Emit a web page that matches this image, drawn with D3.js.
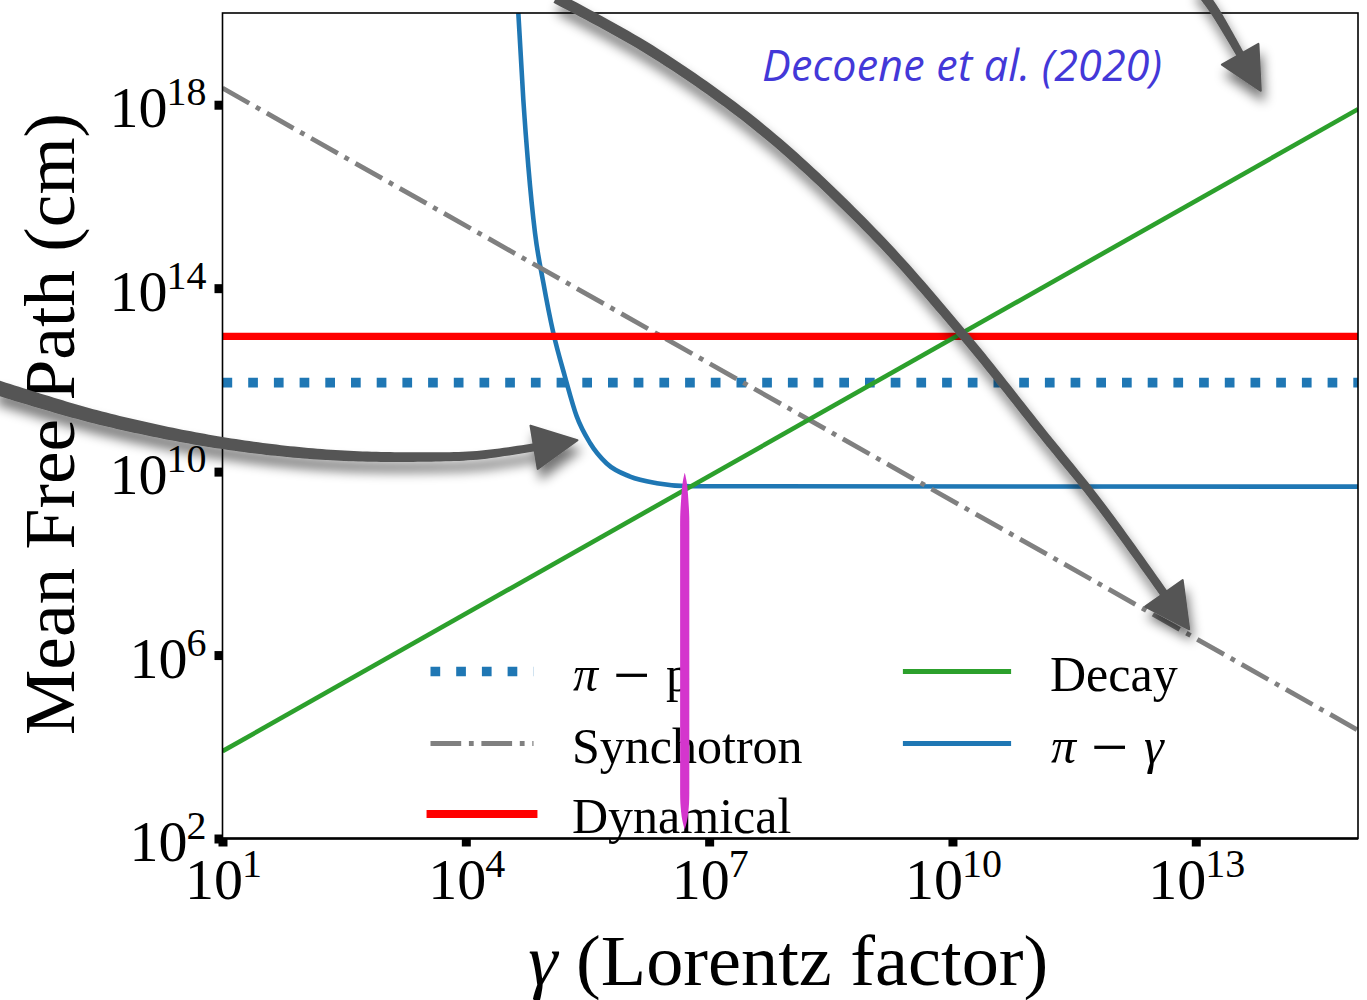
<!DOCTYPE html>
<html>
<head>
<meta charset="utf-8">
<script src="https://cdn.jsdelivr.net/npm/d3@7"></script>
<style>
  body { margin: 0; background: #fff; }
  svg { display: block; }
</style>
</head>
<body>
<svg id="chart" width="1367" height="1000"></svg>
<script>
// Mean free path of charged pions against their Lorentz factor.

// Axes
const gammaDomain = [1e1, 1e15];
const pathDomain = [1e2, 1e20];
const xTickValues = [1e1, 1e4, 1e7, 1e10, 1e13];
const xTickExponents = ["1", "4", "7", "10", "13"];
const yTickValues = [1e2, 1e6, 1e10, 1e14, 1e18];
const yTickExponents = ["2", "6", "10", "14", "18"];

// Series: [gamma, mean free path in cm]
const decayPoints = [[1e1, 8.0e3], [1e15, 8.0e17]];
const synchrotronPoints = [[1e1, 2.3e18], [1e15, 2.3e4]];
const dynamicalPath = 8.9e12;
const pionProtonPath = 8.7e11;
const pionPhotonPoints = [
  [4.44e4, 1.0e20], [5.12e4, 1.26e18], [5.9e4, 4.5e16], [7.13e4, 1.6e15],
  [9.04e4, 1.3e14], [1.2e5, 1.05e13], [1.67e5, 1.17e12], [2.33e5, 1.6e11],
  [3.4e5, 4.2e10], [5.46e5, 1.5e10], [1.06e6, 7.8e9], [2.26e6, 5.6e9],
  [5.8e6, 4.8e9], [1e15, 4.7e9]
];

// Highlighted Lorentz factor where the pi-gamma losses level off
const markerGamma = 5.0e6;
const markerRange = [1.55e2, 9.5e9];

// Annotation arrows, as [log10 gamma, log10 path] control points
const arrowLong = [[5.112, 20.328], [6.271, 19.194], [7.628, 17.493], [9.021, 15.203],
  [10.155, 12.935], [11.105, 10.842], [11.820, 9.272], [12.621, 7.310]];
const arrowLeft = [[-1.805, 11.845], [-0.510, 11.169], [0.994, 10.624], [2.326, 10.362],
  [3.559, 10.319], [4.175, 10.362], [4.866, 10.537]];
const arrowCorner = [[13.004, 20.611], [13.226, 20.066], [13.411, 19.521], [13.559, 19.063]];

const creditText = "Decoene et al. (2020)";

// ---------------------------------------------------------------
const W = 1367, H = 1000;
const plot = { left: 222.5, right: 1358, top: 13, bottom: 838.5 };
const serif = "'Liberation Serif', 'Times New Roman', serif";

const svg = d3.select("#chart");
const x = d3.scaleLog().domain(gammaDomain).range([plot.left, plot.right]);
const y = d3.scaleLog().domain(pathDomain).range([plot.bottom, plot.top]);

const defs = svg.append("defs");
defs.append("clipPath").attr("id", "plotClip")
  .append("rect")
  .attr("x", plot.left).attr("y", plot.top)
  .attr("width", plot.right - plot.left).attr("height", plot.bottom - plot.top);

const shadow = defs.append("filter").attr("id", "arrowShadow")
  .attr("filterUnits", "userSpaceOnUse")
  .attr("x", -60).attr("y", -60).attr("width", W + 120).attr("height", H + 120);
shadow.append("feGaussianBlur").attr("in", "SourceAlpha").attr("stdDeviation", 6).attr("result", "blur");
shadow.append("feOffset").attr("in", "blur").attr("dx", 3).attr("dy", 10).attr("result", "off");
shadow.append("feComponentTransfer").attr("in", "off").attr("result", "soft")
  .append("feFuncA").attr("type", "linear").attr("slope", 0.55);
const merge = shadow.append("feMerge");
merge.append("feMergeNode").attr("in", "soft");
merge.append("feMergeNode").attr("in", "SourceGraphic");

const softEdge = defs.append("filter").attr("id", "softEdge")
  .attr("x", "-200%").attr("y", "-10%").attr("width", "500%").attr("height", "120%");
softEdge.append("feGaussianBlur").attr("stdDeviation", 0.7);

// ---------------------------------------------------------------
// Curves
const straight = d3.line().x(d => x(d[0])).y(d => y(d[1]));
const smooth = d3.line().x(d => x(d[0])).y(d => y(d[1])).curve(d3.curveMonotoneX);

const styles = {
  pionPhoton: { stroke: "#1f77b4", width: 4.6, dash: null },
  pionProton: { stroke: "#1f77b4", width: 9.7, dash: "9.7 16" },
  synchrotron: { stroke: "#808080", width: 4.8, dash: "30.7 7.7 4.8 7.7" },
  dynamical: { stroke: "#ff0000", width: 7.3, dash: null },
  decay: { stroke: "#2ca02c", width: 4.6, dash: null }
};

const lines = svg.append("g").attr("clip-path", "url(#plotClip)");

function drawSeries(d, gen, st) {
  lines.append("path").datum(d)
    .attr("d", gen)
    .attr("fill", "none")
    .attr("stroke", st.stroke)
    .attr("stroke-width", st.width)
    .attr("stroke-dasharray", st.dash)
    .attr("stroke-linejoin", "round");
}

drawSeries(pionPhotonPoints, smooth, styles.pionPhoton);
drawSeries([[gammaDomain[0], pionProtonPath], [gammaDomain[1], pionProtonPath]], straight, styles.pionProton);
drawSeries(synchrotronPoints, straight, styles.synchrotron);
drawSeries([[gammaDomain[0], dynamicalPath], [gammaDomain[1], dynamicalPath]], straight, styles.dynamical);
drawSeries(decayPoints, straight, styles.decay);

// ---------------------------------------------------------------
// Frame and ticks
const frame = svg.append("g");
frame.append("rect")
  .attr("x", plot.left).attr("y", plot.top)
  .attr("width", plot.right - plot.left).attr("height", plot.bottom - plot.top)
  .attr("fill", "none").attr("stroke", "#000").attr("stroke-width", 1.6);
frame.append("line")
  .attr("x1", plot.left).attr("x2", plot.right)
  .attr("y1", plot.bottom).attr("y2", plot.bottom)
  .attr("stroke", "#000").attr("stroke-width", 2.4);

const xAxis = svg.append("g").attr("transform", `translate(0,${plot.bottom})`)
  .call(d3.axisBottom(x).tickValues(xTickValues).tickSize(8).tickFormat(""));
const yAxis = svg.append("g").attr("transform", `translate(${plot.left},0)`)
  .call(d3.axisLeft(y).tickValues(yTickValues).tickSize(8).tickFormat(""));
[xAxis, yAxis].forEach(a => {
  a.select(".domain").remove();
  a.selectAll(".tick line").attr("stroke", "#000").attr("stroke-width", 9);
});

// Tick labels as 10^n
function powerLabel(sel, exp) {
  sel.append("tspan").text("10");
  sel.append("tspan").attr("dy", -22).attr("dx", -1).attr("font-size", 40).text(exp);
}
xTickValues.forEach((v, i) => {
  const t = svg.append("text")
    .attr("x", x(v) + 1).attr("y", plot.bottom + 60)
    .attr("text-anchor", "middle")
    .attr("font-family", serif).attr("font-size", 58).attr("fill", "#000");
  powerLabel(t, xTickExponents[i]);
});
yTickValues.forEach((v, i) => {
  const t = svg.append("text")
    .attr("x", plot.left - 16).attr("y", y(v) + 22.5)
    .attr("text-anchor", "end")
    .attr("font-family", serif).attr("font-size", 58).attr("fill", "#000");
  powerLabel(t, yTickExponents[i]);
});

// Axis titles
const xTitle = svg.append("text")
  .attr("x", (plot.left + plot.right) / 2 - 2).attr("y", 985)
  .attr("text-anchor", "middle")
  .attr("font-family", serif).attr("font-size", 71).attr("fill", "#000")
  .attr("textLength", 520).attr("lengthAdjust", "spacingAndGlyphs");
xTitle.append("tspan").attr("font-style", "italic").text("γ");
xTitle.append("tspan").text(" (Lorentz factor)");

svg.append("text")
  .attr("transform", "translate(74,424) rotate(-90)")
  .attr("text-anchor", "middle")
  .attr("font-family", serif).attr("font-size", 71).attr("fill", "#000")
  .attr("textLength", 622).attr("lengthAdjust", "spacingAndGlyphs")
  .text("Mean Free Path (cm)");

// ---------------------------------------------------------------
// Legend, two columns
const legendItems = [
  { key: "pionProton", col: 0, row: 0, label: [["π", "italic"], ["−", "minus"], ["p", "normal"]] },
  { key: "synchrotron", col: 0, row: 1, label: "Synchotron" },
  { key: "dynamical", col: 0, row: 2, label: "Dynamical" },
  { key: "decay", col: 1, row: 0, label: "Decay" },
  { key: "pionPhoton", col: 1, row: 1, label: [["π", "italic"], ["−", "minus"], ["γ", "italic"]] }
];
const legendCols = [{ x1: 430.5, x2: 533.5, tx: 572 }, { x1: 905.5, x2: 1008.5, tx: 1050 }];
const legendRows = [671.5, 743.5, 814];
const legend = svg.append("g");
legendItems.forEach(it => {
  const c = legendCols[it.col], ry = legendRows[it.row], st = styles[it.key];
  legend.append("line")
    .attr("x1", c.x1).attr("x2", c.x2).attr("y1", ry).attr("y2", ry)
    .attr("stroke", st.stroke).attr("stroke-width", st.dash ? st.width : st.width + 0.6)
    .attr("stroke-dasharray", st.dash)
    .attr("stroke-linecap", st.dash ? "butt" : "square");
  const base = ry + 19;
  const t = legend.append("text")
    .attr("font-family", serif).attr("font-size", 50).attr("fill", "#000");
  if (typeof it.label === "string") {
    t.attr("x", c.tx).attr("y", base).text(it.label);
  } else {
    const offs = [1, 41, 94];
    it.label.forEach(([s, kind], k) => {
      const sp = t.append("tspan").attr("x", c.tx + offs[k]).attr("y", base).text(s);
      if (kind === "italic") sp.attr("font-style", "italic");
      if (kind === "minus") sp.attr("font-size", 66).attr("y", base + 6);
    });
  }
});

// ---------------------------------------------------------------
// Highlighted Lorentz factor
const mx = x(markerGamma), myTop = y(markerRange[1]), myBot = y(markerRange[0]);
const profile = d3.range(0, 41).map(i => {
  const t = i / 40;
  const k = Math.min(1, t / 0.12, (1 - t) / 0.08);
  return { yy: myTop + (myBot - myTop) * t, hw: 4.6 * Math.sqrt(Math.max(0, k)) };
});
svg.append("path").datum(profile)
  .attr("d", d3.area().y(d => d.yy).x0(d => mx - d.hw).x1(d => mx + d.hw).curve(d3.curveBasis))
  .attr("fill", "#d435cd")
  .attr("filter", "url(#softEdge)");

// ---------------------------------------------------------------
// Annotation arrows
const arrows = svg.append("g").attr("filter", "url(#arrowShadow)");
const arrowGen = d3.line()
  .x(d => x(Math.pow(10, d[0])))
  .y(d => y(Math.pow(10, d[1])))
  .curve(d3.curveCatmullRom.alpha(0.5));

function taperedArrow(pts, w0, w1, headLen, headW) {
  const tmp = svg.append("path").attr("d", arrowGen(pts)).attr("fill", "none");
  const node = tmp.node();
  const L = node.getTotalLength();
  const N = 120, left = [], right = [];
  let dirX = 1, dirY = 0, end = null;
  for (let i = 0; i <= N; i++) {
    const s = L * i / N;
    const p = node.getPointAtLength(s);
    const a = node.getPointAtLength(Math.max(0, s - 1));
    const b = node.getPointAtLength(Math.min(L, s + 1));
    let dx = b.x - a.x, dy = b.y - a.y;
    const m = Math.hypot(dx, dy) || 1;
    dx /= m; dy /= m;
    const hw = (w0 + (w1 - w0) * i / N) / 2;
    left.push([p.x - dy * hw, p.y + dx * hw]);
    right.push([p.x + dy * hw, p.y - dx * hw]);
    if (i === N) { dirX = dx; dirY = dy; end = p; }
  }
  tmp.remove();
  const body = left.concat(right.reverse());
  arrows.append("path")
    .attr("d", "M" + body.map(p => p.join(",")).join("L") + "Z")
    .attr("fill", "#555555");
  const back = 2;
  const bx = end.x - dirX * back, by = end.y - dirY * back;
  const tip = [end.x + dirX * headLen, end.y + dirY * headLen];
  const c1 = [bx - dirY * headW / 2, by + dirX * headW / 2];
  const c2 = [bx + dirY * headW / 2, by - dirX * headW / 2];
  arrows.append("path")
    .attr("d", `M${tip.join(",")}L${c1.join(",")}L${c2.join(",")}Z`)
    .attr("fill", "#555555")
    .attr("stroke", "#555555").attr("stroke-width", 2).attr("stroke-linejoin", "round");
}

taperedArrow(arrowLong, 11, 8.5, 42, 46);
taperedArrow(arrowLeft, 15, 8, 42, 44);
taperedArrow(arrowCorner, 10.5, 8, 40, 42);

// Credit
svg.append("text")
  .attr("x", 762).attr("y", 81)
  .attr("font-family", "'Open Sans', 'Noto Sans', sans-serif")
  .attr("font-style", "italic").attr("font-size", 43)
  .attr("fill", "#4338d8")
  .attr("textLength", 400).attr("lengthAdjust", "spacing")
  .text(creditText);
</script>
</body>
</html>
